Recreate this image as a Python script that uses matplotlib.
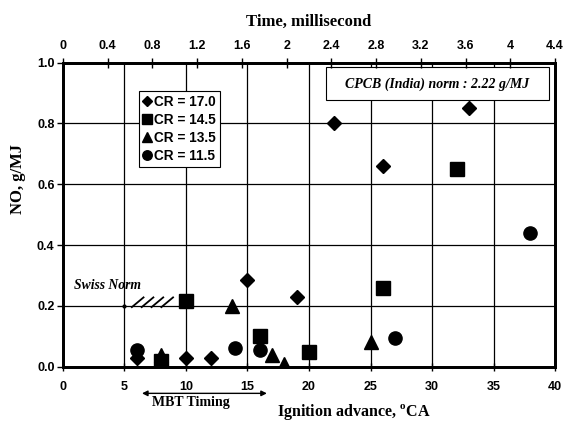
import matplotlib.pyplot as plt
from matplotlib.patches import Rectangle

# data (ignition advance in deg CA, NO in g/MJ)
cr170_x = [6, 10, 12, 15, 19, 22, 26, 33]
cr170_y = [0.03, 0.03, 0.03, 0.285, 0.23, 0.80, 0.66, 0.85]
cr145_x = [8, 10, 16, 20, 26, 32]
cr145_y = [0.02, 0.215, 0.10, 0.05, 0.26, 0.65]
cr135_x = [8, 13.7, 17, 18, 25]
cr135_y = [0.04, 0.20, 0.04, 0.01, 0.08]
cr115_x = [6, 14, 16, 27, 38]
cr115_y = [0.055, 0.06, 0.055, 0.095, 0.44]

x_ticks = [0, 5, 10, 15, 20, 25, 30, 35, 40]
y_ticks = [0.0, 0.2, 0.4, 0.6, 0.8, 1.0]
time_ticks = [0, 0.4, 0.8, 1.2, 1.6, 2.0, 2.4, 2.8, 3.2, 3.6, 4.0, 4.4]
time_labels = ['0', '0.4', '0.8', '1.2', '1.6', '2', '2.4', '2.8', '3.2', '3.6', '4', '4.4']

swiss_norm = 0.2
swiss_start = 5
slash_starts = [5.6, 6.4, 7.2, 8.0]
mbt_range = (6.2, 16.8)

serif = 'Liberation Serif'
sans = 'Liberation Sans'

fig = plt.figure(figsize=(5.67, 4.23), dpi=100)
ax = fig.add_axes([0.111, 0.133, 0.868, 0.719])

ax.set_xlim(0, 40)
ax.set_ylim(0, 1.0)
ax.set_xticks(x_ticks)
ax.set_yticks(y_ticks)
ax.set_xticklabels([str(t) for t in x_ticks], fontfamily=sans, fontweight='bold', fontsize=9)
ax.set_yticklabels(['%.1f' % t for t in y_ticks], fontfamily=sans, fontweight='bold', fontsize=9)
ax.grid(True, color='black', lw=0.9)
ax.set_axisbelow(True)
for s in ax.spines.values():
    s.set_linewidth(2)
ax.tick_params(axis='x', direction='inout', length=6, width=1, pad=7)
ax.tick_params(axis='y', direction='out', length=4, width=1, pad=2)

ax.plot(cr170_x, cr170_y, 'D', color='black', ms=7.5, ls='none', label='CR = 17.0', zorder=4)
ax.plot(cr145_x, cr145_y, 's', color='black', ms=9.5, ls='none', label='CR = 14.5', zorder=4)
ax.plot(cr135_x, cr135_y, '^', color='black', ms=9.5, ls='none', label='CR = 13.5', zorder=4)
ax.plot(cr115_x, cr115_y, 'o', color='black', ms=9.5, ls='none', label='CR = 11.5', zorder=4)

leg = ax.legend(loc='upper left', bbox_to_anchor=(0.154, 0.908), borderaxespad=0,
                prop={'family': sans, 'weight': 'bold', 'size': 9.8},
                markerscale=0.72, handlelength=0.6, handletextpad=0.25,
                labelspacing=0.3, borderpad=0.3, fancybox=False,
                framealpha=1, edgecolor='black')
leg.get_frame().set_linewidth(0.8)

# CPCB norm box
ax.add_patch(Rectangle((21.4, 0.877), 18.1, 0.107, facecolor='white',
                       edgecolor='black', lw=0.8, zorder=5))
ax.text(30.45, 0.930, 'CPCB (India) norm : 2.22 g/MJ', ha='center', va='center',
        fontfamily=serif, fontweight='bold', fontstyle='italic', fontsize=10, zorder=6)

# Swiss norm marker
ax.plot([swiss_start], [swiss_norm], 'o', color='black', ms=2, zorder=4)
for sx in slash_starts:
    ax.plot([sx, sx + 0.95], [swiss_norm - 0.004, swiss_norm + 0.028], color='black', lw=1.3, zorder=4)
ax.text(0.9, 0.266, 'Swiss Norm', ha='left', va='center', fontfamily=serif,
        fontweight='bold', fontstyle='italic', fontsize=9.8)

# MBT timing arrow below the axis
xt = ax.get_xaxis_transform()
ax.annotate('', xy=(mbt_range[0], -0.0875), xytext=(mbt_range[1], -0.0875), xycoords=xt,
            textcoords=xt, annotation_clip=False,
            arrowprops=dict(arrowstyle='<|-|>', color='black', lw=1, mutation_scale=8))
ax.text(10.4, -0.119, 'MBT Timing', transform=xt, ha='center', va='center',
        fontfamily=serif, fontweight='bold', fontsize=10)

ax.text(23.6, -0.148, 'Ignition advance, $^\\mathregular{o}$CA', transform=xt, ha='center',
        va='center', fontfamily=serif, fontweight='bold', fontsize=11.5)
ax.text(-0.091, 0.617, 'NO, g/MJ', transform=ax.transAxes, rotation=90, ha='center',
        va='center', fontfamily=serif, fontweight='bold', fontsize=12)

# top axis in milliseconds
ax2 = ax.twiny()
ax2.set_xlim(0, 4.4)
ax2.set_xticks(time_ticks)
ax2.set_xticklabels(time_labels, fontfamily=sans, fontweight='bold', fontsize=9)
ax2.tick_params(axis='x', direction='inout', length=7, width=1, pad=4)
for s in ax2.spines.values():
    s.set_linewidth(2)
ax2.set_xlabel('Time, millisecond', fontfamily=serif, fontweight='bold', fontsize=12, labelpad=10)

fig.savefig('out.png', dpi=100)
